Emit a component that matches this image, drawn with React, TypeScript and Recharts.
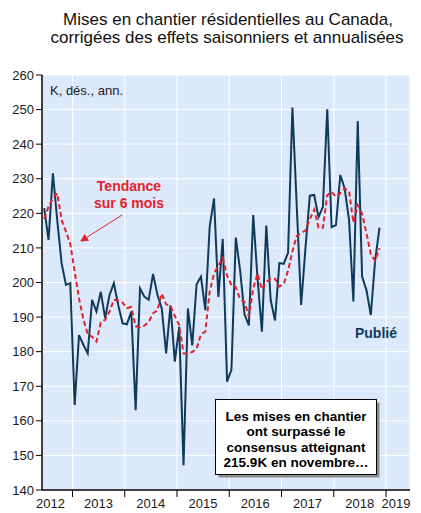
import React from 'react';
import { LineChart, Line, XAxis, YAxis, CartesianGrid } from 'recharts';

// First month shown: June 2012 (monthly data through November 2018)
const START_YEAR = 2012;
const START_MONTH = 6;

// Housing starts, K units, SAAR (published)
const starts = [
  221.5, 212.3, 231.6, 218.0, 205.6, 199.3, 199.8,
  164.6, 184.8, 182.0, 179.5, 195.0, 191.6, 197.3, 189.7, 196.4, 199.8, 193.5, 188.2,
  187.9, 191.6, 163.1, 198.3, 195.9, 195.0, 202.5, 196.5, 192.5, 179.5, 193.4, 177.1,
  187.2, 147.2, 192.5, 181.8, 199.5, 201.7, 192.0, 216.1, 224.3, 195.8, 212.6, 171.3,
  174.8, 213.0, 203.4, 190.8, 187.6, 219.5, 201.0, 185.8, 216.5, 195.0, 189.0, 205.6,
  205.4, 208.6, 250.6, 222.0, 193.5, 210.0, 225.1, 225.3, 218.9, 221.9, 250.1, 216.0,
  216.6, 231.1, 227.2, 218.1, 194.5, 246.7, 201.7, 197.8, 190.6, 206.5, 215.9,
];

// 6-month trend
const trend = [
  218.4, 221.9, 224.4, 225.8, 218.1, 214.7, 211.1,
  203.2, 195.4, 189.4, 185.0, 184.3, 182.9, 188.4, 189.2, 191.6, 195.0, 194.7, 194.2,
  192.6, 192.9, 187.4, 187.1, 187.5, 188.6, 191.1, 191.9, 196.8, 193.7, 193.2, 190.3,
  187.7, 179.5, 179.5, 179.9, 180.9, 185.0, 185.8, 197.3, 202.6, 204.9, 207.1, 202.0,
  199.2, 198.6, 195.2, 194.3, 190.2, 198.2, 202.6, 198.0, 200.2, 200.9, 201.1, 198.8,
  199.6, 203.4, 209.0, 213.5, 214.3, 215.0, 218.3, 221.1, 215.8, 215.8, 225.2, 226.2,
  224.8, 225.8, 227.2, 226.5, 217.3, 222.4, 219.9, 214.3, 208.2, 206.3, 209.9,
];

const yTicks = [140, 150, 160, 170, 180, 190, 200, 210, 220, 230, 240, 250, 260];
const yearLabels = ['2012', '2013', '2014', '2015', '2016', '2017', '2018', '2019'];
const yearStartTicks = [12, 24, 36, 48, 60, 72, 84];
const monthTicks = Array.from({ length: 84 }, (_, i) => i + 6);

const firstIndex = (START_YEAR - 2012) * 12 + (START_MONTH - 1);
const data = starts.map((v, i) => ({
  t: firstIndex + i + 0.5,
  starts: v,
  trend: trend[i],
}));

const BLUE = '#0f3a5c';
const RED = '#e3232c';
const TEXT = '#1a1a1a';

const YearTick = (props: any) => {
  const { x, y, payload } = props;
  const idx = Math.round(payload.value / 12);
  const last = idx === yearLabels.length - 1;
  const off = last ? 10 : 26;
  return (
    <g>
      {idx === 1 && (
        <text x={x - 22} y={y} dy="0.71em" textAnchor="middle" fontSize={13} fill={TEXT}>
          {yearLabels[0]}
        </text>
      )}
      <text x={x + off} y={y} dy="0.71em" textAnchor="middle" fontSize={13} fill={TEXT}>
        {yearLabels[idx]}
      </text>
    </g>
  );
};

export default function App() {
  return (
    <div
      style={{
        position: 'absolute',
        left: 0,
        top: 0,
        width: 421,
        height: 513,
        background: '#fff',
        fontFamily: '"Liberation Sans", Arial, sans-serif',
      }}
    >
      <LineChart
        width={421}
        height={513}
        data={data}
        margin={{ top: 75, right: 11, bottom: 0, left: 0 }}
      >
        <CartesianGrid
          xAxisId="main"
          stroke="#ffffff"
          strokeWidth={1}
          fill="#dce9fb"
          fillOpacity={1}
        />
        <XAxis
          xAxisId="minor"
          dataKey="t"
          type="number"
          domain={[5, 89.5]}
          ticks={monthTicks}
          interval={0}
          height={0}
          axisLine={false}
          tickLine={{ stroke: '#000', strokeWidth: 1 }}
          tickSize={3}
          tick={false}
          allowDataOverflow
        />
        <XAxis
          xAxisId="main"
          dataKey="t"
          type="number"
          domain={[5, 89.5]}
          ticks={yearStartTicks}
          interval={0}
          height={23}
          axisLine={{ stroke: '#000', strokeWidth: 1.5 }}
          tickLine={{ stroke: '#000', strokeWidth: 1 }}
          tickSize={7}
          tickMargin={2}
          tick={<YearTick />}
          allowDataOverflow
        />
        <YAxis
          domain={[140, 260]}
          ticks={yTicks}
          interval={0}
          width={42}
          axisLine={{ stroke: '#000', strokeWidth: 1.5 }}
          tickLine={{ stroke: '#000', strokeWidth: 1 }}
          tickSize={6}
          tickMargin={2}
          tick={{ fontSize: 13, fill: TEXT }}
          allowDataOverflow
        />
        <Line
          xAxisId="main"
          type="linear"
          dataKey="starts"
          stroke={BLUE}
          strokeWidth={2}
          dot={false}
          isAnimationActive={false}
        />
        <Line
          xAxisId="main"
          type="linear"
          dataKey="trend"
          stroke={RED}
          strokeWidth={2}
          strokeDasharray="5 3"
          dot={false}
          isAnimationActive={false}
        />
      </LineChart>
      <svg
        width={421}
        height={513}
        style={{ position: 'absolute', left: 0, top: 0, pointerEvents: 'none' }}
      >
        <defs>
          <marker id="arr" markerWidth="8" markerHeight="8" refX="7" refY="4" orient="auto" markerUnits="userSpaceOnUse">
            <path d="M0,0 L8,4 L0,8 z" fill={RED} />
          </marker>
        </defs>
        <text x={228} y={25} textAnchor="middle" fontSize={17} fill="#111">
          Mises en chantier résidentielles au Canada,
        </text>
        <text x={227} y={43} textAnchor="middle" fontSize={17} fill="#111">
          corrigées des effets saisonniers et annualisées
        </text>
        <text x={50} y={95} fontSize={13} fill={TEXT}>
          K, dés., ann.
        </text>
        <text x={129} y={191} textAnchor="middle" fontSize={14} fontWeight="bold" fill={RED}>
          Tendance
        </text>
        <text x={129} y={208} textAnchor="middle" fontSize={14} fontWeight="bold" fill={RED}>
          sur 6 mois
        </text>
        <line x1={122} y1={215} x2={81} y2={241} stroke={RED} strokeWidth={1} markerEnd="url(#arr)" />
        <text x={376} y={338} textAnchor="middle" fontSize={14} fontWeight="bold" fill={BLUE}>
          Publié
        </text>
        <rect x={218.5} y={402.5} width={161} height={75} fill="#8c8c8c" />
        <rect x={215.5} y={399.5} width={161} height={75} fill="#fff" stroke="#000" strokeWidth={1} />
        <text x={296} y={420.5} textAnchor="middle" fontSize={13.5} fontWeight="bold" fill="#000">
          Les mises en chantier
        </text>
        <text x={296} y={436} textAnchor="middle" fontSize={13.5} fontWeight="bold" fill="#000">
          ont surpassé le
        </text>
        <text x={296} y={451.5} textAnchor="middle" fontSize={13.5} fontWeight="bold" fill="#000">
          consensus atteignant
        </text>
        <text x={296} y={467} textAnchor="middle" fontSize={13.5} fontWeight="bold" fill="#000">
          215.9K en novembre…
        </text>
      </svg>
    </div>
  );
}
